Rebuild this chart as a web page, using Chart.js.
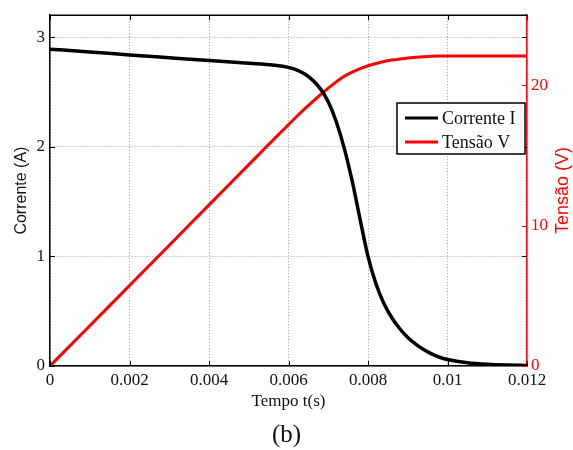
<!DOCTYPE html>
<html><head><meta charset="utf-8">
<script src="https://cdn.jsdelivr.net/npm/chart.js@4/dist/chart.umd.min.js"></script>
<style>html,body{margin:0;padding:0;background:#fff;}#wrap{width:573px;height:450px;}</style>
</head><body><div id="wrap"><canvas id="c" width="573" height="450"></canvas></div>
<script>
// ---- data ----
const time    = [0, 0.001, 0.002, 0.003, 0.004, 0.005, 0.0054, 0.0056, 0.0058, 0.006, 0.0062, 0.0064, 0.0066, 0.0068, 0.007, 0.0072, 0.0074, 0.0076, 0.0078, 0.008, 0.0082, 0.0084, 0.0086, 0.0088, 0.009, 0.0092, 0.0094, 0.0096, 0.0098, 0.01, 0.0105, 0.011, 0.0115, 0.012];
const current = [2.89, 2.865, 2.838, 2.812, 2.786, 2.762, 2.752, 2.746, 2.737, 2.724, 2.702, 2.665, 2.61, 2.53, 2.41, 2.23, 1.99, 1.69, 1.34, 1.0, 0.75, 0.57, 0.44, 0.34, 0.26, 0.2, 0.15, 0.11, 0.08, 0.06, 0.03, 0.015, 0.008, 0.005];
const voltage = [0, 2.87, 5.74, 8.61, 11.48, 14.35, 15.5, 16.07, 16.64, 17.2, 17.76, 18.3, 18.82, 19.32, 19.8, 20.25, 20.65, 20.95, 21.2, 21.4, 21.56, 21.7, 21.8, 21.88, 21.95, 22.0, 22.04, 22.07, 22.09, 22.1, 22.1, 22.1, 22.1, 22.1];
const xTickValues = [0, 0.002, 0.004, 0.006, 0.008, 0.01, 0.012];
const xTickLabels = ['0', '0.002', '0.004', '0.006', '0.008', '0.01', '0.012'];
const leftTickValues = [0, 1, 2, 3];
const rightTickValues = [0, 10, 20];
const seriesNames = ['Corrente I', 'Tensão V'];
const xTitle = 'Tempo t(s)';
const leftTitle = 'Corrente (A)';
const rightTitle = 'Tensão (V)';
const caption = '(b)';

const SERIF = "'Liberation Serif', 'Times New Roman', serif";
const SANS = "'Liberation Sans', Arial, sans-serif";
const RED = '#ff0000';
const INK = '#111111';

function pts(ys) { return time.map((t, i) => ({x: t, y: ys[i]})); }

const extras = {
  id: 'extras',
  afterDatasetsDraw(chart) {
    const {ctx, chartArea: a, scales} = chart;
    ctx.save();
    // inside tick marks
    ctx.lineWidth = 1;
    ctx.strokeStyle = '#000';
    ctx.beginPath();
    xTickValues.forEach(v => {
      const x = Math.round(scales.x.getPixelForValue(v)) + 0.5;
      ctx.moveTo(x, a.bottom); ctx.lineTo(x, a.bottom - 5);
      ctx.moveTo(x, a.top); ctx.lineTo(x, a.top + 5);
    });
    leftTickValues.forEach(v => {
      const y = Math.round(scales.y.getPixelForValue(v)) + 0.5;
      ctx.moveTo(a.left, y); ctx.lineTo(a.left + 5, y);
      ctx.moveTo(a.right, y); ctx.lineTo(a.right - 5, y);
    });
    ctx.stroke();
    ctx.strokeStyle = RED;
    ctx.beginPath();
    rightTickValues.forEach(v => {
      const y = Math.round(scales.y1.getPixelForValue(v)) + 0.5;
      ctx.moveTo(a.right, y); ctx.lineTo(a.right - 5, y);
    });
    ctx.stroke();
    // top frame line
    ctx.strokeStyle = '#000';
    ctx.lineWidth = 1.5;
    ctx.beginPath();
    ctx.moveTo(a.left, a.top); ctx.lineTo(a.right, a.top);
    ctx.stroke();

    // legend box
    const bx = 397, by = 103, bw = 128, bh = 51;
    ctx.fillStyle = '#fff';
    ctx.fillRect(bx, by, bw, bh);
    ctx.strokeStyle = '#000';
    ctx.lineWidth = 1.5;
    ctx.strokeRect(bx, by, bw, bh);
    ctx.font = '18px ' + SERIF;
    ctx.textBaseline = 'middle';
    ctx.textAlign = 'left';
    chart.data.datasets.forEach((ds, i) => {
      const cy = by + 15 + i * 24;
      ctx.strokeStyle = ds.borderColor;
      ctx.lineWidth = 3;
      ctx.beginPath();
      ctx.moveTo(bx + 8, cy); ctx.lineTo(bx + 41, cy);
      ctx.stroke();
      ctx.fillStyle = INK;
      ctx.fillText(ds.label, bx + 45, cy + 1);
    });

    // right axis title (reads bottom-to-top)
    ctx.translate(563, (a.top + a.bottom) / 2);
    ctx.rotate(-Math.PI / 2);
    ctx.fillStyle = RED;
    ctx.font = '18px ' + SANS;
    ctx.textAlign = 'center';
    ctx.textBaseline = 'middle';
    ctx.fillText(rightTitle, 0, 0);
    ctx.restore();
  }
};

new Chart(document.getElementById('c'), {
  type: 'line',
  data: {
    datasets: [
      {label: seriesNames[0], data: pts(current), borderColor: '#000000', borderWidth: 3.5, yAxisID: 'y', pointRadius: 0, cubicInterpolationMode: 'monotone', fill: false},
      {label: seriesNames[1], data: pts(voltage), borderColor: RED, borderWidth: 3, yAxisID: 'y1', pointRadius: 0, cubicInterpolationMode: 'monotone', fill: false}
    ]
  },
  options: {
    responsive: false,
    devicePixelRatio: 1,
    animation: false,
    layout: {padding: {top: 11, left: 0, right: 0, bottom: 0}},
    plugins: {
      legend: {display: false},
      tooltip: {enabled: false},
      title: {display: true, position: 'bottom', text: caption, color: INK,
              font: {family: SERIF, size: 25, weight: 'normal'}, padding: {top: 8, bottom: 0}}
    },
    scales: {
      x: {
        type: 'linear', min: 0, max: 0.012,
        afterBuildTicks: s => { s.ticks = xTickValues.map(v => ({value: v})); },
        afterFit: s => { s.height = 46; },
        ticks: {callback: (v, i) => xTickLabels[i], color: INK, font: {family: SERIF, size: 17}, padding: 4, maxRotation: 0, autoSkip: false},
        grid: {color: '#9a9a9a', lineWidth: 1, drawTicks: false},
        border: {display: true, color: '#000', width: 1.5, dash: []},
        title: {display: true, text: xTitle, color: INK, font: {family: SERIF, size: 17}, padding: {top: 0, bottom: 0}}
      },
      y: {
        type: 'linear', position: 'left', min: 0, max: 3.2,
        afterBuildTicks: s => { s.ticks = leftTickValues.map(v => ({value: v})); },
        afterFit: s => { s.width = 50; },
        ticks: {callback: v => String(v), color: INK, font: {family: SERIF, size: 17}, padding: 5},
        grid: {color: '#9a9a9a', lineWidth: 1, drawTicks: false},
        border: {display: true, color: '#000', width: 1.5},
        title: {display: true, text: leftTitle, color: INK, font: {family: SANS, size: 16}, padding: {top: 12, bottom: 0}}
      },
      y1: {
        type: 'linear', position: 'right', min: 0, max: 25,
        afterBuildTicks: s => { s.ticks = rightTickValues.map(v => ({value: v})); },
        afterFit: s => { s.width = 46; },
        ticks: {callback: v => String(v), color: RED, font: {family: SERIF, size: 17}, padding: 4},
        grid: {display: false, drawTicks: false},
        border: {display: true, color: RED, width: 1.5}
      }
    }
  },
  plugins: [{
    id: 'dashGrid',
    beforeInit(chart) {
      ['x', 'y'].forEach(k => { chart.options.scales[k].border.dash = [1, 2]; });
    }
  }, extras]
});
</script></body></html>
